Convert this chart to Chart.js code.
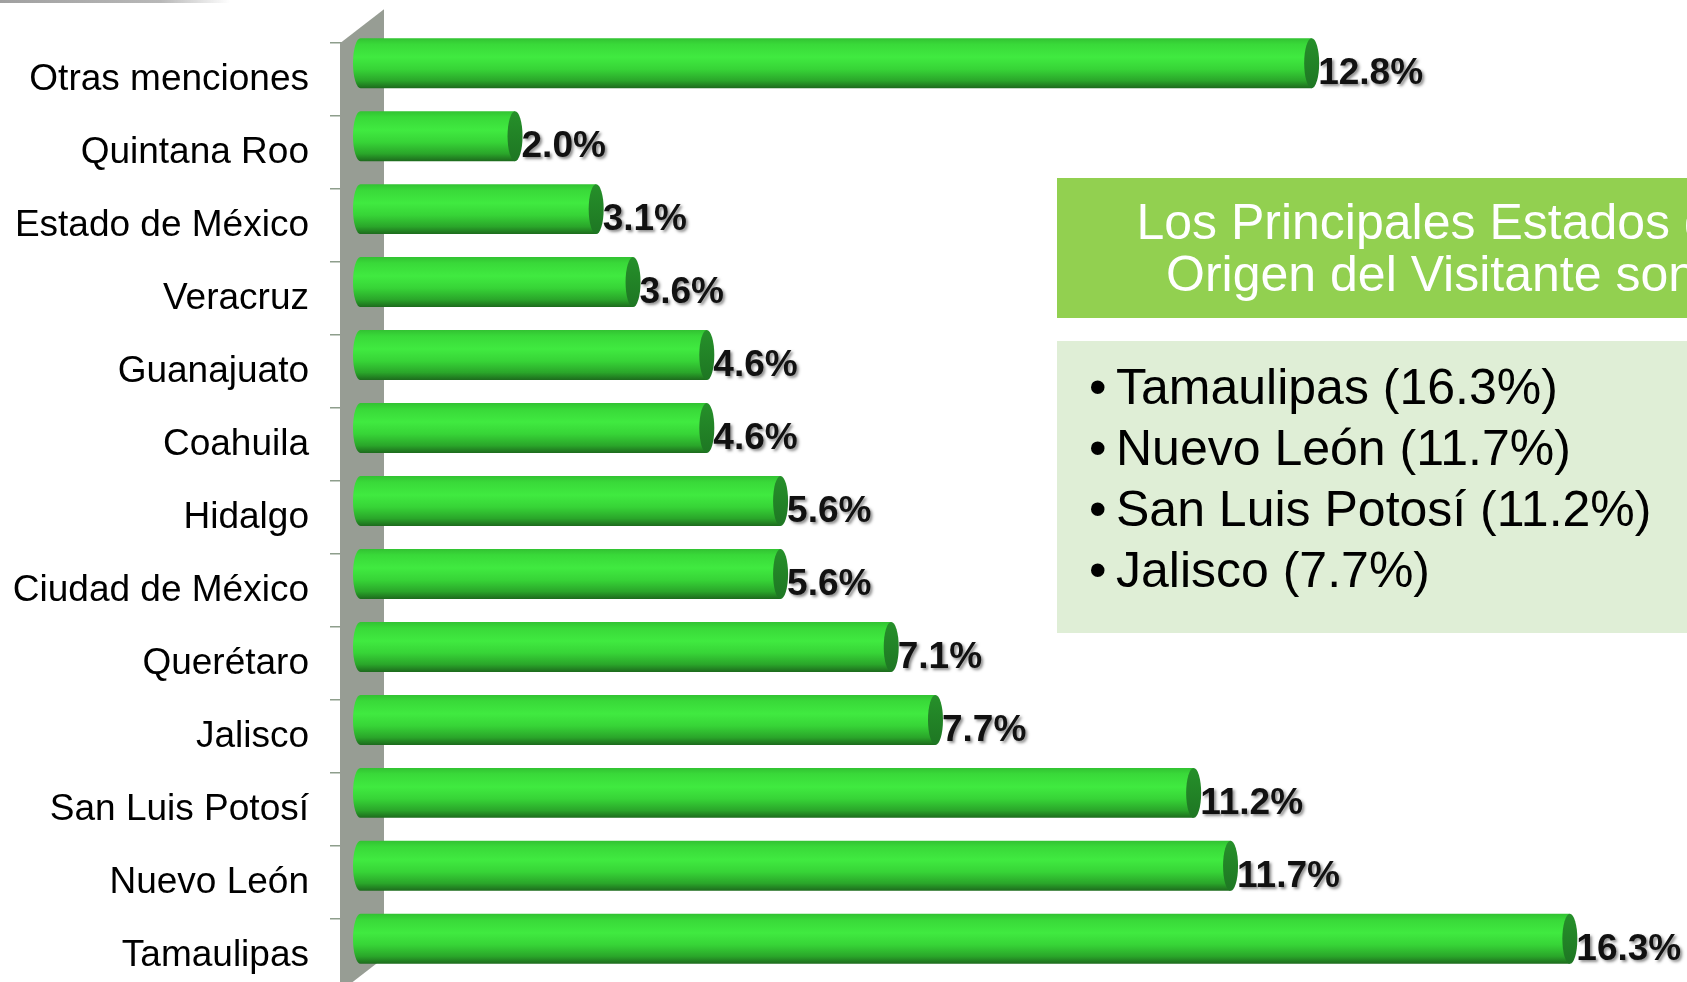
<!DOCTYPE html>
<html>
<head>
<meta charset="utf-8">
<script src="https://cdn.jsdelivr.net/npm/chart.js"></script>
<style>
  html, body { margin: 0; padding: 0; width: 1687px; height: 982px; overflow: hidden; background: #fff; font-family: "Liberation Sans", Arial, sans-serif; }
  #c { position: absolute; left: 0; top: 0; }
  .topline { position: absolute; left: 0; top: 0; width: 230px; height: 3px; background: linear-gradient(to right, #a0a0a0, #b8b8b8 70%, rgba(255,255,255,0)); }
  .head { position: absolute; left: 1057px; top: 178px; width: 762px; height: 140px; box-sizing: border-box; padding-top: 18px; background: #92d050; color: #fff; font-size: 50px; line-height: 52px; text-align: center; white-space: nowrap; }
  .list { position: absolute; left: 1057px; top: 341px; width: 700px; height: 292px; box-sizing: border-box; padding: 16px 0 0 32px; background: #dfeed6; color: #000; font-size: 50px; line-height: 61px; white-space: nowrap; }
  .list .b { display: inline-block; width: 27px; }
</style>
</head>
<body>
<canvas id="c" width="1687" height="1035"></canvas>
<div class="topline"></div>
<div class="head">Los Principales Estados de<br>Origen del Visitante son:</div>
<div class="list" id="list"></div>
<script>
// estados (de arriba hacia abajo)
const categories = ['Otras menciones', 'Quintana Roo', 'Estado de México', 'Veracruz', 'Guanajuato', 'Coahuila',
    'Hidalgo', 'Ciudad de México', 'Querétaro', 'Jalisco', 'San Luis Potosí', 'Nuevo León', 'Tamaulipas'];
const values = [12.8, 2.0, 3.1, 3.6, 4.6, 4.6, 5.6, 5.6, 7.1, 7.7, 11.2, 11.7, 16.3];
const axisMax = 17.8;

// recuadro de la derecha
const topStates = ['Tamaulipas', 'Nuevo León', 'San Luis Potosí', 'Jalisco'];
const topValues = [16.3, 11.7, 11.2, 7.7];

document.getElementById('list').innerHTML = topStates
    .map((s, i) => '<div><span class="b">•</span>' + s + ' (' + topValues[i].toFixed(1) + '%)</div>')
    .join('');

// pared gris del eje
const wallPlugin = {
    id: 'wall',
    beforeDatasetsDraw(chart) {
        const { ctx, chartArea: a } = chart;
        ctx.save();
        ctx.fillStyle = '#979d94';
        ctx.beginPath();
        ctx.moveTo(a.left - 34, a.top);
        ctx.lineTo(a.left + 10, a.top - 34);
        ctx.lineTo(a.left + 10, a.bottom - 34);
        ctx.lineTo(a.left - 34, a.bottom);
        ctx.closePath();
        ctx.fill();
        ctx.restore();
    }
};

// barras tipo cilindro + etiquetas
const cylinderPlugin = {
    id: 'cylinders',
    afterDatasetsDraw(chart) {
        const ctx = chart.ctx;
        const bars = chart.getDatasetMeta(0).data;
        const rx = 7.5;
        ctx.save();
        bars.forEach(bar => {
            const h = bar.height;
            const cy = bar.y - 16.5;
            const top = cy - h / 2, bottom = cy + h / 2;
            const xl = bar.base - 21;
            const capX = bar.x + 1 - rx;

            const g = ctx.createLinearGradient(0, top, 0, bottom);
            g.addColorStop(0, '#32c232');
            g.addColorStop(0.12, '#39d939');
            g.addColorStop(0.38, '#40ea40');
            g.addColorStop(0.62, '#37d437');
            g.addColorStop(0.85, '#2aa62a');
            g.addColorStop(1, '#1d6a1d');
            ctx.fillStyle = g;
            ctx.beginPath();
            ctx.moveTo(capX, top);
            ctx.lineTo(xl + rx, top);
            ctx.ellipse(xl + rx, cy, rx, h / 2, 0, -Math.PI / 2, Math.PI / 2, true);
            ctx.lineTo(capX, bottom);
            ctx.closePath();
            ctx.fill();

            const cg = ctx.createLinearGradient(0, top, 0, bottom);
            cg.addColorStop(0, '#26902a');
            cg.addColorStop(1, '#1e7623');
            ctx.fillStyle = cg;
            ctx.beginPath();
            ctx.ellipse(capX, cy, rx, h / 2, 0, 0, Math.PI * 2);
            ctx.fill();
        });

        ctx.font = 'bold 37px "Liberation Sans", Arial, sans-serif';
        ctx.textBaseline = 'middle';
        ctx.textAlign = 'left';
        ctx.fillStyle = '#111';
        ctx.shadowColor = 'rgba(0, 0, 0, 0.45)';
        ctx.shadowOffsetX = 2;
        ctx.shadowOffsetY = 2;
        ctx.shadowBlur = 3;
        bars.forEach((bar, i) => {
            ctx.fillText(values[i].toFixed(1) + '%', bar.x, bar.y - 16.5 + 11);
        });
        ctx.restore();
    }
};

new Chart(document.getElementById('c'), {
    type: 'bar',
    data: {
        labels: categories,
        datasets: [{
            data: values,
            backgroundColor: 'rgba(0,0,0,0)',
            borderWidth: 0,
            barPercentage: 0.685,
            categoryPercentage: 1
        }]
    },
    options: {
        indexAxis: 'y',
        responsive: false,
        devicePixelRatio: 1,
        animation: false,
        layout: { padding: { top: 43, bottom: 0, left: 0, right: 0 } },
        scales: {
            x: { display: false, min: 0, max: axisMax },
            y: {
                grid: { display: true, drawOnChartArea: false, drawTicks: true, tickLength: 44, color: '#8e9e8c', lineWidth: 1.5, offset: true },
                border: { display: false },
                ticks: {
                    color: '#000',
                    font: { size: 37, family: '"Liberation Sans", Arial, sans-serif' },
                    padding: 21,
                    autoSkip: false
                },
                afterFit(scale) { scale.width = 374; }
            }
        },
        plugins: {
            legend: { display: false },
            tooltip: { enabled: false }
        }
    },
    plugins: [wallPlugin, cylinderPlugin]
});
</script>
</body>
</html>
